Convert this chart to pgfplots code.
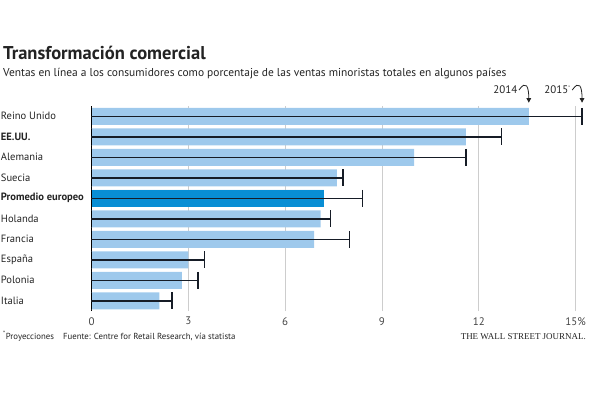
\documentclass[border=0pt]{standalone}
\usepackage{pgfplots}
\pgfplotsset{compat=1.18}
\usepackage{pgfplotstable}
\usepackage{fontspec}
\setmainfont{PT Sans}
\newfontfamily\wsjfont{Liberation Serif}
\usetikzlibrary{arrows.meta}
\definecolor{lightbar}{RGB}{158,201,236}
\definecolor{darkbar}{RGB}{8,142,212}
\definecolor{gridgray}{RGB}{205,205,205}
\definecolor{txt}{RGB}{35,35,35}
\definecolor{whisk}{RGB}{22,28,38}

\pgfplotstableread{
y a b z
0 2.1 2.5 0
1 2.8 3.3 0
2 3.0 3.5 0
3 6.9 8.0 0
4 7.1 7.4 0
5 7.2 8.4 0
6 7.6 7.8 0
7 10.0 11.6 0
8 11.6 12.7 0
9 13.55 15.2 0
}\datatable
\pgfplotstableread{
y a
5 7.2
}\avgtable

\begin{document}
\begin{tikzpicture}[x=1bp,y=1bp]
\begin{axis}[
  name=ax,
  scale only axis, width=497bp, height=205bp,
  xmin=0, xmax=15.4, ymin=-0.5, ymax=9.5,
  axis lines=left,
  x axis line style={draw=none},
  y axis line style={-, black, line width=1.2bp},
  tick style={draw=none},
  xtick={0,3,6,9,12,15},
  xticklabels={0,3,6,9,12,15\%},
  xmajorgrids, grid style={gridgray, line width=0.8bp},
  ytick={0,...,9},
  yticklabels={Italia,Polonia,España,Francia,Holanda,\textbf{Promedio europeo},Suecia,Alemania,\textbf{EE.UU.},Reino Unido},
  yticklabel style={anchor=west, inner sep=0pt, xshift=-86.5bp, font=\fontsize{10.6}{12}\selectfont, text=txt},
  xticklabel style={inner sep=0pt, yshift=-4bp, font=\fontsize{11}{12}\selectfont, text=txt!85},
  /pgf/number format/assume math mode=true,
  xbar, bar width=17bp, bar shift=0pt,
  clip=false,
]
\addplot[xbar, fill=lightbar, draw=none] table[x=a, y=y] {\datatable};
\addplot[xbar, fill=darkbar, draw=none] table[x=a, y=y] {\avgtable};
\addplot[only marks, mark=none, xbar=false,
  error bars/.cd, x dir=plus, x explicit,
  error bar style={line width=1.5bp, whisk},
  error mark=|, error mark options={line width=1.5bp, mark size=8.5bp, whisk}]
  table[x=z, y=y, x error=b] {\datatable};
\node[anchor=east, inner sep=0pt, font=\fontsize{11}{12}\selectfont, text=txt] (y14) at (axis cs:13.2,10.28) {2014};
\draw[-{Triangle[length=4.5bp,width=4.5bp]}, line width=0.8bp, txt] ([xshift=1.5bp]y14.east) .. controls +(7bp,0) and +(0,6bp) .. (axis cs:13.55,9.66);
\node[anchor=east, inner sep=0pt, font=\fontsize{11}{12}\selectfont, text=txt] (y15) at (axis cs:14.85,10.28) {2015\textsuperscript{\tiny *}};
\draw[-{Triangle[length=4.5bp,width=4.5bp]}, line width=0.8bp, txt] ([xshift=1.5bp]y15.east) .. controls +(7bp,0) and +(0,6bp) .. (axis cs:15.2,9.66);
\end{axis}
\coordinate (O) at ([shift={(-91.5bp,-89bp)}]ax.south west);
\node[anchor=base west, inner sep=0pt, font=\fontsize{18.6}{20}\selectfont\bfseries, text=txt] at ([shift={(3bp,340bp)}]O) {Transformación comercial};
\node[anchor=base west, inner sep=0pt, font=\fontsize{11.5}{13}\selectfont, text=txt] at ([shift={(3bp,323bp)}]O) {Ventas en línea a los consumidores como porcentaje de las ventas minoristas totales en algunos países};
\node[anchor=base west, inner sep=0pt, font=\fontsize{8.8}{10}\selectfont, text=txt] at ([shift={(3bp,61bp)}]O) {\textsuperscript{*}Proyecciones\hspace{9bp}Fuente: Centre for Retail Research, vía statista};
\node[anchor=base east, inner sep=0pt, font=\wsjfont\fontsize{9}{10}\selectfont, text=txt] at ([shift={(586bp,61bp)}]O) {THE WALL STREET JOURNAL.};
\pgfresetboundingbox
\path[use as bounding box] (O) rectangle ([shift={(589bp,400bp)}]O);
\end{tikzpicture}
\end{document}
